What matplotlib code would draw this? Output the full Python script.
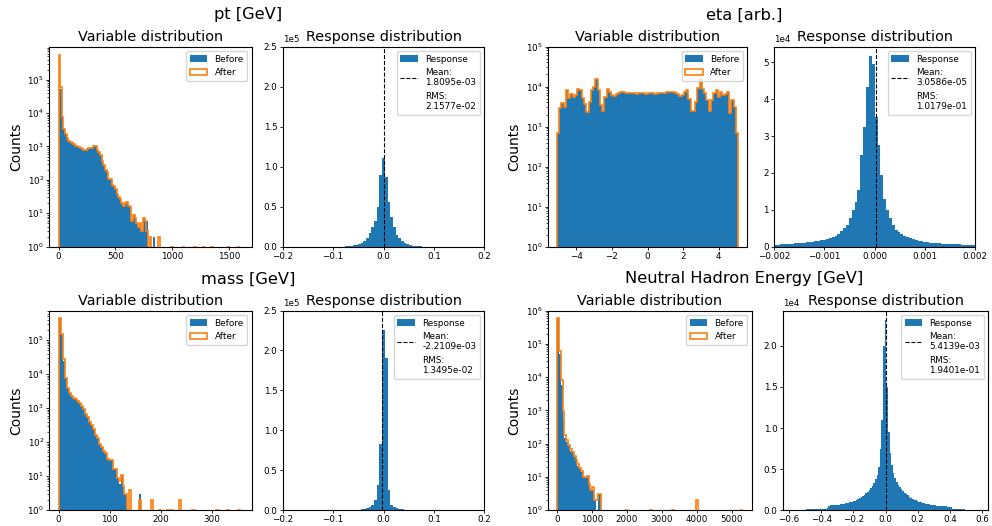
import numpy as np
import matplotlib
matplotlib.use('Agg')
import matplotlib.pyplot as plt

# ---- variable distributions (bin counts) ----
pt_edges = np.linspace(0, 1620, 112)
pt_after = [540000, 59000, 7400, 3300, 2400, 1780, 1480, 1320, 1250, 1150,
            1060, 1020, 960, 900, 850, 800, 780, 830, 870, 890,
            930, 1060, 1020, 810, 670, 540, 360, 270, 195, 170,
            107, 105, 69, 66, 55, 37, 30, 26, 21, 17,
            21, 22, 17, 15, 6, 9, 7, 5, 4, 5,
            3, 7, 6, 3, 0, 2, 0, 0, 0, 0,
            2, 0, 0, 0, 0, 0, 0, 0, 1, 0,
            0, 0, 0, 0, 0, 1, 0, 0, 0, 0,
            0, 0, 1, 0, 0, 0, 0, 1, 0, 0,
            0, 0, 1, 0, 0, 0, 0, 0, 0, 0,
            0, 0, 1, 0, 0, 0, 0, 0, 1, 0, 0]
pt_before = [540000, 52000, 7200, 3300, 2400, 1780, 1480, 1320, 1250, 1150,
             1060, 1020, 960, 900, 850, 800, 780, 830, 870, 890,
             930, 1060, 1020, 810, 670, 540, 360, 270, 195, 170,
             107, 105, 69, 66, 55, 37, 30, 26, 21, 17,
             21, 22, 17, 15, 6, 9, 7, 5, 4, 5,
             3, 7, 6, 6, 0, 0, 0, 2, 0, 0,
             0, 0, 0, 0, 0, 0, 0, 0, 1, 0,
             0, 0, 0, 0, 0, 1, 0, 0, 0, 0,
             0, 0, 1, 0, 0, 0, 0, 1, 0, 0,
             0, 0, 1, 0, 0, 0, 0, 0, 0, 0,
             0, 0, 1, 0, 0, 0, 0, 0, 1, 0, 0]

eta_edges = np.linspace(-5.1, 5.1, 81)
eta_after = [700, 2900, 3900, 3100, 8000, 5300, 6500, 5600, 6200, 8500,
             8000, 5200, 3600, 2300, 4200, 8000, 9500, 15500, 8000, 3500,
             2400, 5500, 8500, 7500, 6300, 5700, 6500, 7000, 7300, 7200,
             7000, 6900, 6800, 6900, 6800, 6700, 6800, 6900, 6800, 6700,
             6800, 6900, 6800, 6700, 6800, 6900, 7000, 6900, 7100, 7300,
             7200, 7400, 7000, 6600, 5800, 6200, 7500, 8000, 5000, 2500,
             2500, 4000, 9000, 15000, 8500, 7000, 4500, 2500, 4500, 7000,
             8000, 5500, 7500, 6000, 6500, 7500, 2200, 4500, 3100, 700]
eta_before = eta_after

mass_edges = np.linspace(0, 360, 93)
mass_after = [450000, 150000, 27000, 7800, 4000, 2700, 2200, 2000, 1800, 1600,
              1400, 1150, 920, 690, 550, 400, 320, 245, 162, 130,
              91, 72, 55, 47, 31, 29, 29, 16, 16, 9,
              7, 11, 5, 3, 0, 4, 0, 0, 0, 0,
              2, 0, 0, 0, 0, 0, 2, 0, 0, 0,
              1, 0, 0, 0, 1, 0, 1, 0, 0, 0,
              2, 0, 0, 0, 0, 0, 0, 1, 0, 0,
              0, 0, 0, 0, 0, 0, 0, 0, 0, 1,
              0, 0, 0, 0, 1, 0, 0, 0, 0, 0, 1, 0]
mass_before = [440000, 140000, 25000, 7500, 4000, 2700, 2200, 2000, 1800, 1600,
               1400, 1150, 920, 690, 550, 400, 320, 245, 162, 130,
               91, 72, 55, 47, 31, 29, 29, 16, 16, 9,
               6, 11, 5, 3, 0, 0, 0, 0, 0, 0,
               3, 0, 0, 0, 0, 0, 0, 0, 0, 0,
               0, 0, 0, 0, 0, 0, 0, 0, 0, 0,
               0, 0, 0, 0, 0, 0, 0, 0, 0, 0,
               0, 0, 0, 0, 0, 0, 0, 0, 0, 0,
               0, 0, 0, 0, 0, 0, 0, 0, 0, 0, 0, 0]

nhe_edges = np.linspace(0, 5300, 101)
nhe_after = [600000, 60000, 8000, 950, 180, 125, 91, 68, 58, 44,
             32, 24, 19, 15, 10, 10, 11, 6, 4, 5,
             2, 2, 3, 3, 0, 0, 0, 0, 0, 0,
             0, 0, 0, 0, 0, 0, 0, 1, 0, 0,
             0, 0, 0, 0, 0, 0, 0, 0, 0, 0,
             1, 0, 0, 0, 0, 0, 0, 0, 0, 0,
             0, 0, 1, 0, 0, 0, 0, 0, 0, 0,
             0, 0, 0, 0, 0, 2, 0, 0, 0, 0,
             0, 0, 0, 0, 0, 0, 0, 0, 0, 0,
             0, 0, 0, 0, 0, 0, 0, 0, 0, 1]
nhe_before = [590000, 50000, 5600, 600, 150, 110, 85, 62, 52, 40,
              30, 22, 18, 14, 10, 9, 10, 6, 4, 4,
              2, 1, 3, 3, 0, 0, 0, 0, 0, 0,
              0, 0, 0, 0, 0, 0, 0, 1, 0, 0,
              0, 0, 0, 0, 0, 0, 0, 0, 0, 0,
              1, 0, 0, 0, 0, 0, 0, 0, 0, 0,
              0, 0, 1, 0, 0, 0, 0, 0, 0, 0,
              0, 0, 0, 0, 0, 0, 0, 0, 0, 0,
              0, 0, 0, 0, 0, 0, 0, 0, 0, 0,
              0, 0, 0, 0, 0, 0, 0, 0, 0, 1]

# ---- response distributions ----
resp_edges = np.linspace(-0.2, 0.2, 76)
pt_resp = [10, 10, 10, 10, 10, 10, 10, 10, 10, 10,
           10, 10, 15, 15, 20, 20, 25, 30, 40, 50,
           60, 80, 100, 300, 800, 1300, 1800, 2500, 3300, 5000,
           7500, 10800, 16700, 24000, 32500, 49000, 90000, 111000, 87500, 56000,
           37000, 25000, 14600, 10400, 6700, 5000, 3300, 2000, 1300, 1000,
           700, 300, 100, 80, 60, 50, 40, 30, 25, 20,
           20, 15, 15, 10, 10, 10, 10, 10, 10, 10, 10, 10, 10, 10, 10]
mass_resp = [100, 110, 120, 130, 140, 150, 160, 170, 180, 190,
             200, 220, 240, 260, 280, 300, 320, 340, 360, 380,
             400, 420, 440, 460, 480, 500, 550, 650, 800, 1100,
             1500, 2500, 4000, 7000, 13000, 32000, 83000, 225000, 190000, 25000,
             6600, 4100, 2500, 1500, 1000, 800, 700, 600, 550, 500,
             450, 400, 350, 300, 250, 200, 150, 130, 120, 110,
             100, 90, 80, 70, 60, 50, 45, 40, 35, 30, 25, 20, 20, 15, 10]

eta_resp_edges = np.linspace(-0.002, 0.002, 71)
eta_resp = [500, 550, 600, 650, 700, 750, 800, 900, 950, 1000,
            1100, 1200, 1300, 1400, 1500, 1600, 1700, 1900, 2100, 2300,
            2600, 3000, 3500, 4200, 5000, 6000, 7800, 10000, 12200, 15300,
            24800, 32600, 43200, 51800, 49500, 35300, 27500, 19500, 13000, 10000,
            7700, 5900, 4500, 3900, 3400, 3000, 2600, 2300, 2000, 1800,
            1600, 1450, 1300, 1200, 1100, 1000, 950, 900, 850, 800,
            750, 700, 650, 600, 600, 550, 500, 500, 450, 450]

nhe_resp_edges = np.linspace(-0.585, 0.585, 118)
nhe_resp = [40, 45, 50, 55, 60, 65, 70, 75, 80, 90,
            95, 100, 110, 120, 130, 140, 150, 160, 170, 180,
            190, 200, 210, 560, 580, 600, 620, 640, 660, 690,
            720, 750, 780, 820, 860, 900, 950, 1000, 1080, 1160,
            1250, 1350, 1450, 1580, 1720, 1880, 2050, 2250, 2450, 2700,
            3000, 3350, 3750, 4300, 5300, 7500, 11000, 20000,
            23200,
            15000, 9500, 7000, 5500, 4500, 3900, 3400, 3100, 2800, 2550,
            2350, 2150, 1950, 1800, 1650, 1520, 1400, 1300, 1200, 1120,
            1050, 980, 920, 860, 810, 760, 720, 680, 650, 620,
            590, 570, 550, 530, 510, 490, 470, 460, 450, 440,
            430, 150, 140, 130, 120, 110, 100, 95, 90, 80,
            75, 70, 65, 60, 55, 50, 45, 40]

groups = [
    # title, var edges, before, after, var xlim, var ylim top,
    # resp edges, resp counts, resp xlim, resp ylim top, mean, rms
    ('pt [GeV]', pt_edges, pt_before, pt_after, (-81, 1701), 9.8e5,
     resp_edges, pt_resp, (-0.2, 0.2), 2.5e5, 1.8095e-03, '2.1577e-02'),
    ('eta [arb.]', eta_edges, eta_before, eta_after, (-5.61, 5.61), 1e5,
     eta_resp_edges, eta_resp, (-0.002, 0.002), 5.43e4, 3.0586e-05, '1.0179e-01'),
    ('mass [GeV]', mass_edges, mass_before, mass_after, (-18, 378), 7.4e5,
     resp_edges, mass_resp, (-0.2, 0.2), 2.5e5, -2.2109e-03, '1.3495e-02'),
    ('Neutral Hadron Energy [GeV]', nhe_edges, nhe_before, nhe_after, (-265, 5565), 1e6,
     nhe_resp_edges, nhe_resp, (-0.64, 0.64), 2.43e4, 5.4139e-03, '1.9401e-01'),
]

W, H = 992, 526
fig = plt.figure(figsize=(W / 100, H / 100), dpi=100)


def box(l, t, r, b):
    return fig.add_axes([l / W, 1 - b / H, (r - l) / W, (b - t) / H])


def centers(e):
    return (e[:-1] + e[1:]) / 2


def style_ticks(ax):
    ax.tick_params(labelsize=6.3, length=2.0, width=0.6, pad=1.8)
    ax.tick_params(which='minor', length=1.3, width=0.5)
    for s in ax.spines.values():
        s.set_linewidth(0.8)


# pixel boxes (left, top, right, bottom) for each group
var_boxes = [(49.3, 46.5, 251.7, 246.7), (547.7, 46.5, 747.3, 246.7),
             (49.3, 310.5, 251.7, 510.2), (547.7, 310.5, 751.7, 510.2)]
resp_boxes = [(282.7, 46.5, 484.3, 246.7), (774.3, 46.5, 975.0, 246.7),
              (282.7, 310.5, 484.3, 510.2), (782.7, 310.5, 988.3, 510.2)]
title_pos = [(248, 15), (744, 15), (248, 279), (744, 279)]

for g, vb, rb, tp in zip(groups, var_boxes, resp_boxes, title_pos):
    (name, edges, before, after, vxlim, vtop,
     redges, rcounts, rxlim, rtop, mean, rms) = g
    fig.text(tp[0] / W, 1 - tp[1] / H, name, ha='center', va='center', fontsize=11.7)

    ax = box(*vb)
    ax.hist(centers(edges), bins=edges, weights=before, histtype='stepfilled',
            color='#1f77b4', label='Before', log=True)
    ax.hist(centers(edges), bins=edges, weights=after, histtype='step', color='#ff7f0e',
            linewidth=1.2, label='After', log=True)
    ax.set_xlim(*vxlim)
    ax.set_ylim(1, vtop)
    ax.set_title('Variable distribution', fontsize=10.4, pad=4)
    ax.set_ylabel('Counts', fontsize=10, labelpad=3)
    style_ticks(ax)
    ax.legend(loc='upper right', fontsize=6.4)

    ax2 = box(*rb)
    ax2.hist(centers(redges), bins=redges, weights=rcounts, histtype='stepfilled',
             color='#1f77b4', label='Response')
    ax2.axvline(mean, color='black', linestyle='--', linewidth=0.8,
                label='Mean:\n%.4e' % mean)
    ax2.plot([], [], ' ', label='RMS:\n' + rms)
    ax2.set_xlim(*rxlim)
    ax2.set_ylim(0, rtop)
    ax2.ticklabel_format(axis='y', style='sci', scilimits=(0, 0))
    ax2.yaxis.get_offset_text().set_fontsize(6.3)
    ax2.set_title('Response distribution', fontsize=10.4, pad=4)
    style_ticks(ax2)
    ax2.legend(loc='upper right', fontsize=6.4)

fig.savefig('out.png', dpi=100)
